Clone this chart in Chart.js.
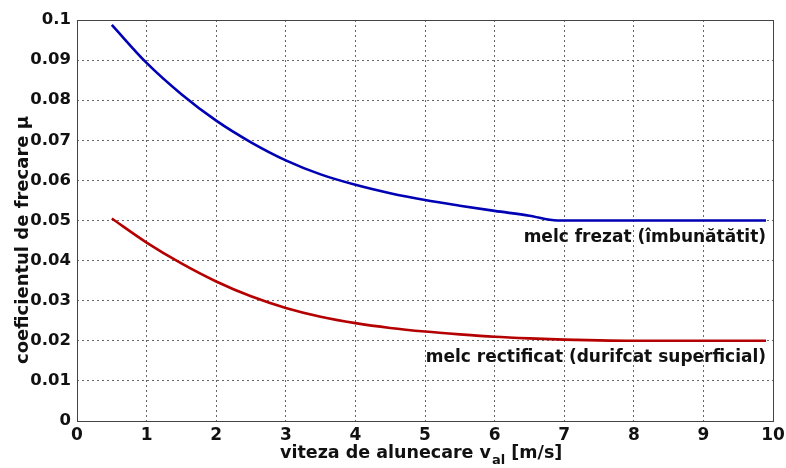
<!DOCTYPE html>
<html>
<head>
<meta charset="utf-8">
<script src="https://cdn.jsdelivr.net/npm/chart.js@4.4.1/dist/chart.umd.min.js"></script>
<style>
html,body{margin:0;padding:0;background:#fff;}
#wrap{width:786px;height:468px;position:relative;}
</style>
</head>
<body>
<div id="wrap"><canvas id="c" width="786" height="468"></canvas></div>
<script>
// Data
const xFrezat = [0.5, 1, 1.5, 2, 2.5, 3, 3.5, 4, 4.5, 5, 5.5, 6, 6.5, 6.9, 7.5, 8, 8.5, 9, 9.5, 9.9];
const yFrezat = [0.0988, 0.0893, 0.0815, 0.0749, 0.0695, 0.0650, 0.0615, 0.0589, 0.0568, 0.0551, 0.0537, 0.0524, 0.0512, 0.0500, 0.0500, 0.0500, 0.0500, 0.0500, 0.0500, 0.0500];
const xRectificat = [0.5, 1, 1.5, 2, 2.5, 3, 3.5, 4, 4.5, 5, 5.5, 6, 6.5, 7, 7.5, 8, 8.5, 9, 9.5, 9.9];
const yRectificat = [0.0505, 0.0445, 0.0393, 0.0348, 0.0311, 0.0282, 0.0260, 0.0244, 0.0232, 0.0223, 0.0216, 0.0210, 0.0206, 0.0203, 0.0201, 0.0200, 0.0200, 0.0200, 0.0200, 0.0200];
const seriesLabels = ["melc frezat (îmbunătătit)", "melc rectificat (durifcat superficial)"];
const xTicks = [0,1,2,3,4,5,6,7,8,9,10];
const yTicks = [0,0.01,0.02,0.03,0.04,0.05,0.06,0.07,0.08,0.09,0.1];
const xTitleMain = "viteza de alunecare v";
const xTitleSub = "al";
const xTitleEnd = " [m/s]";
const yTitle = "coeficientul de frecare μ";

const FONT = "'DejaVu Sans', sans-serif";

const toPts = (xs, ys) => xs.map((x, i) => ({x: x, y: ys[i]}));

const annot = {
  id: 'annot',
  afterDraw(chart) {
    const ctx = chart.ctx;
    const xs = chart.scales.x, ys = chart.scales.y;
    const ca = chart.chartArea;
    ctx.save();
    // box border
    ctx.strokeStyle = '#444';
    ctx.lineWidth = 1;
    ctx.strokeRect(Math.round(ca.left)+0.5, Math.round(ca.top)+0.5, Math.round(ca.right-ca.left), Math.round(ca.bottom-ca.top));
    // series labels
    ctx.fillStyle = '#111';
    ctx.font = "bold 17px " + FONT;
    ctx.textAlign = 'right';
    ctx.textBaseline = 'alphabetic';
    ctx.fillText(seriesLabels[0], xs.getPixelForValue(9.9), ys.getPixelForValue(0.0447));
    ctx.fillText(seriesLabels[1], xs.getPixelForValue(9.9), ys.getPixelForValue(0.0147));
    // x title with subscript
    ctx.textAlign = 'left';
    ctx.font = "bold 17.5px " + FONT;
    const w1 = ctx.measureText(xTitleMain).width;
    ctx.font = "bold 13px " + FONT;
    const w2 = ctx.measureText(xTitleSub).width;
    let x0 = 280;
    const yb = 458;
    ctx.font = "bold 17.5px " + FONT;
    ctx.fillText(xTitleMain, x0, yb);
    ctx.font = "bold 13px " + FONT;
    ctx.fillText(xTitleSub, x0 + w1 + 1, yb + 6);
    ctx.font = "bold 17.5px " + FONT;
    ctx.fillText(xTitleEnd, x0 + w1 + w2 + 1, yb);
    // y title
    ctx.translate(28, 240);
    ctx.rotate(-Math.PI / 2);
    ctx.textAlign = 'center';
    ctx.font = "bold 18px " + FONT;
    ctx.fillText(yTitle, 0, 0);
    ctx.restore();
  }
};

new Chart(document.getElementById('c'), {
  type: 'scatter',
  data: {
    datasets: [
      {label: seriesLabels[0], data: toPts(xFrezat, yFrezat), showLine: true, borderColor: '#0000b4', borderWidth: 2.6, pointRadius: 0, cubicInterpolationMode: 'monotone', fill: false},
      {label: seriesLabels[1], data: toPts(xRectificat, yRectificat), showLine: true, borderColor: '#b40000', borderWidth: 2.6, pointRadius: 0, cubicInterpolationMode: 'monotone', fill: false}
    ]
  },
  options: {
    responsive: false,
    animation: false,
    layout: {padding: {left: 0, right: 13, top: 20, bottom: 0}},
    plugins: {legend: {display: false}, tooltip: {enabled: false}},
    scales: {
      x: {
        type: 'linear', min: 0, max: 10,
        afterBuildTicks: s => { s.ticks = xTicks.map(v => ({value: v})); },
        afterFit: s => { s.height = 47; s.paddingLeft = 0; s.paddingRight = 0; },
        grid: {color: '#666', lineWidth: 1, drawTicks: false},
        border: {display: false, dash: [2, 3]},
        ticks: {color: '#111', font: {family: FONT, size: 17, weight: 'bold'}, padding: 4, maxRotation: 0, autoSkip: false, callback: v => String(v)}
      },
      y: {
        type: 'linear', min: 0, max: 0.1,
        afterBuildTicks: s => { s.ticks = yTicks.map(v => ({value: v})); },
        afterFit: s => { s.width = 77; s.paddingTop = 0; s.paddingBottom = 0; },
        grid: {color: '#666', lineWidth: 1, drawTicks: false},
        border: {display: false, dash: [2, 3]},
        ticks: {color: '#111', font: {family: FONT, size: 16.5, weight: 'bold'}, padding: 6, autoSkip: false, callback: v => String(Math.round(v * 100) / 100)}
      }
    }
  },
  plugins: [annot]
});
</script>
</body>
</html>
